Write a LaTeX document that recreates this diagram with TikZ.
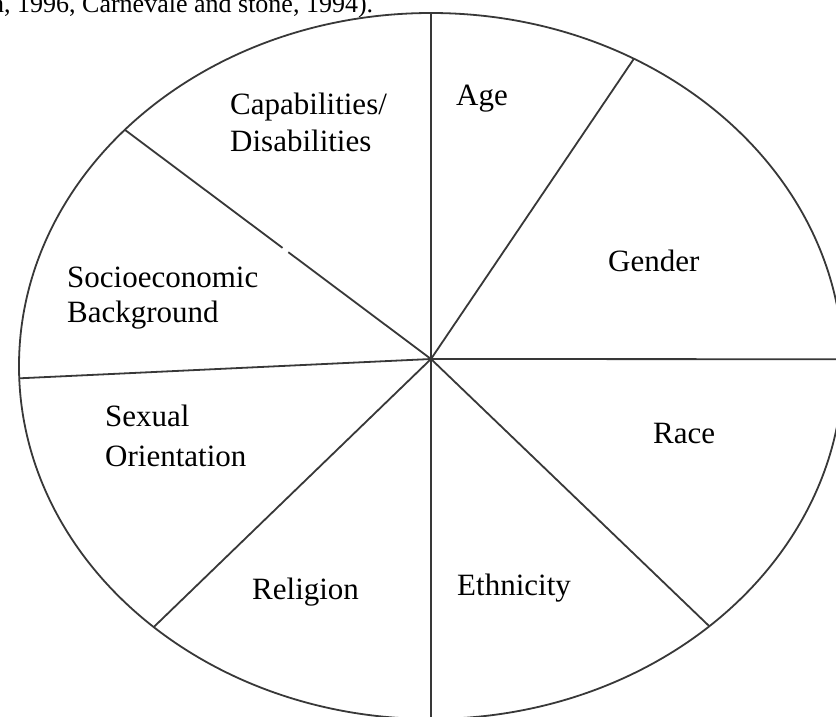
\documentclass[tikz,border=0pt]{standalone}
\usepackage{fontspec}
\setmainfont{Liberation Serif}
\usetikzlibrary{calc}
\begin{document}
\begin{tikzpicture}[x=1pt,y=-1pt,
  spoke/.style={line width=1.8pt, draw=black!78},
  lbl/.style={anchor=base west, inner sep=0pt, font=\fontsize{31}{37}\selectfont},
  cite/.style={anchor=base west, inner sep=0pt, font=\fontsize{26}{30}\selectfont}]
\useasboundingbox (0,0) rectangle (836,717);
\fill[white] (0,0) rectangle (836,717);
\clip (0,0) rectangle (836,717);
% ellipse centre and spoke hub
\coordinate (E) at (431,366);
\coordinate (O) at (431,359);
\draw[spoke] (E) ellipse [x radius=412, y radius=353];
% spoke end points on the rim
\coordinate (pT)  at ($(E)+(-90:412 and 353)$);
\coordinate (pAG) at ($(E)+(-60.5:412 and 353)$);
\coordinate (pR)  at ($(E)+(-1.1:412 and 353)$);
\coordinate (pRE) at ($(E)+(47.5:412 and 353)$);
\coordinate (pB)  at ($(E)+(90:412 and 353)$);
\coordinate (pRS) at ($(E)+(132.3:412 and 353)$);
\coordinate (pL)  at ($(E)+(178:412 and 353)$);
\coordinate (pCS) at ($(E)+(222:412 and 353)$);
\coordinate (gA) at ($(O)!0.466!(pCS)$);
\coordinate (gB) at ($(O)!0.485!(pCS)$);
% spokes
\draw[spoke] (O) -- (pT);
\draw[spoke] (O) -- (pAG);
\draw[spoke] (O) -- (pR);
\draw[spoke] (O) -- (pRE);
\draw[spoke] (O) -- (pB);
\draw[spoke] (O) -- (pRS);
\draw[spoke] (O) -- (pL);
\draw[spoke] (O) -- (gA);
\draw[spoke] (gB) -- (pCS);
% cut-off citation at the top
\node[cite] (citation) at (-9,13) {n, 1996, Carnevale and stone, 1994).};
% labels
\node[lbl] (cap1) at (230,114) {Capabilities/};
\node[lbl] (cap2) at (230,151) {Disabilities};
\node[lbl] (age) at (456,106) {Age};
\node[lbl] (gender) at (608,271) {Gender};
\node[lbl] (soc1) at (67,287) {Socioeconomic};
\node[lbl] (soc2) at (67,322) {Background};
\node[lbl] (sex1) at (105,426) {Sexual};
\node[lbl] (sex2) at (105,466) {Orientation};
\node[lbl] (race) at (653,443) {Race};
\node[lbl] (religion) at (252,599) {Religion};
\node[lbl] (ethnicity) at (457,595) {Ethnicity};
\end{tikzpicture}
\end{document}
